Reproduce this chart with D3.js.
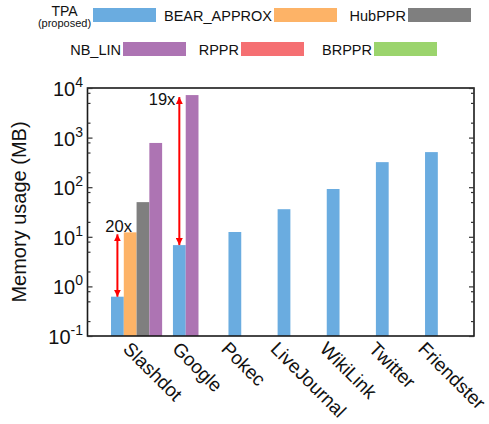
<!DOCTYPE html>
<html>
<head>
<meta charset="utf-8">
<script src="https://cdn.jsdelivr.net/npm/d3@7"></script>
<style>
  body { margin: 0; background: #fff; }
  text { font-family: "Liberation Sans", Arial, Helvetica, sans-serif; fill: #111; }
</style>
</head>
<body>
<svg id="chart" width="489" height="424"></svg>
<script>
// Datasets on the x axis
const categories = ["Slashdot", "Google", "Pokec", "LiveJournal", "WikiLink", "Twitter", "Friendster"];

// Methods (series) and their colours
const seriesNames = ["TPA", "BEAR_APPROX", "HubPPR", "NB_LIN", "RPPR", "BRPPR"];
const seriesColors = ["#6aace0", "#fdb367", "#7f7f7f", "#ad74b3", "#f56f72", "#9bd46d"];

// Memory usage in MB (null = method could not run on that dataset)
const tpaValues    = [0.62, 6.8, 12.5, 36, 92, 320, 510];
const bearValues   = [12.3, null, null, null, null, null, null];
const hubValues    = [50, null, null, null, null, null, null];
const nbLinValues  = [780, 7200, null, null, null, null, null];
const rpprValues   = [null, null, null, null, null, null, null];
const brpprValues  = [null, null, null, null, null, null, null];

// Y axis decades (10^e)
const yTickExponents = [-1, 0, 1, 2, 3, 4];
const yMinorMultipliers = [2, 5, 8];

// Ratio annotations: TPA vs. another method
const ratioLabels = ["20x", "19x"];
const ratioCategories = ["Slashdot", "Google"];
const ratioAgainst = ["BEAR_APPROX", "NB_LIN"];

const allValues = [tpaValues, bearValues, hubValues, nbLinValues, rpprValues, brpprValues];

const svg = d3.select("#chart");
const plot = { left: 87.5, right: 474, top: 88, bottom: 336 };

const x = d3.scaleBand().domain(categories).range([112, 456]);
const y = d3.scaleLog().domain([0.1, 10000]).range([plot.bottom, plot.top]);
const color = d3.scaleOrdinal().domain(seriesNames).range(seriesColors);
const barWidth = x.bandwidth() * 0.26;

// Bars present in each category, centred in the category band
const barsByCategory = categories.map((cat, ci) => {
  const present = seriesNames
    .map((s, si) => ({ series: s, value: allValues[si][ci] }))
    .filter(d => d.value != null);
  const centre = x(cat) + x.bandwidth() / 2;
  return present.map((d, i) => ({
    category: cat,
    series: d.series,
    value: d.value,
    x0: centre - present.length * barWidth / 2 + i * barWidth
  }));
}).flat();

svg.append("g")
  .selectAll("rect")
  .data(barsByCategory)
  .join("rect")
  .attr("x", d => d.x0)
  .attr("width", barWidth)
  .attr("y", d => y(d.value))
  .attr("height", d => plot.bottom - y(d.value))
  .attr("fill", d => color(d.series));

// Frame
svg.append("rect")
  .attr("x", plot.left).attr("y", plot.top)
  .attr("width", plot.right - plot.left).attr("height", plot.bottom - plot.top)
  .attr("fill", "none").attr("stroke", "#1a1a1a").attr("stroke-width", 1.6);

// Ticks on left and right (inward), with minor ticks
const majorVals = yTickExponents.map(e => Math.pow(10, e));
const minorVals = [];
yTickExponents.slice(0, -1).forEach(e => yMinorMultipliers.forEach(m => minorVals.push(m * Math.pow(10, e))));

const axisLeft = d3.axisLeft(y).tickValues(majorVals).tickSize(-5).tickFormat("");
const axisRight = d3.axisRight(y).tickValues(majorVals).tickSize(-5).tickFormat("");
const minorLeft = d3.axisLeft(y).tickValues(minorVals).tickSize(-3).tickFormat("");
const minorRight = d3.axisRight(y).tickValues(minorVals).tickSize(-3).tickFormat("");

[[axisLeft, plot.left], [minorLeft, plot.left], [axisRight, plot.right], [minorRight, plot.right]].forEach(([ax, px]) => {
  const g = svg.append("g").attr("transform", `translate(${px},0)`).call(ax);
  g.select(".domain").remove();
  g.selectAll("line").attr("stroke", "#333").attr("stroke-width", 1.2);
});

// Y tick labels as 10^e
const yLabels = svg.append("g");
yTickExponents.forEach(e => {
  const t = yLabels.append("text")
    .attr("x", 83)
    .attr("y", y(Math.pow(10, e)) + 8)
    .attr("text-anchor", "end")
    .attr("font-size", 20);
  t.append("tspan").text("10");
  t.append("tspan").attr("dy", -9).attr("font-size", 14).text(String(e));
});

// Y axis title
svg.append("text")
  .attr("transform", `translate(26,${(plot.top + plot.bottom) / 2}) rotate(-90)`)
  .attr("text-anchor", "middle")
  .attr("font-size", 20)
  .text("Memory usage (MB)");

// X category labels, rotated
svg.append("g")
  .selectAll("text")
  .data(categories)
  .join("text")
  .attr("transform", d => `translate(${x(d) + x.bandwidth() / 2 - 14.5},350) rotate(45)`)
  .attr("text-anchor", "start")
  .attr("font-size", 19)
  .text(d => d);

// Ratio arrows
const defs = svg.append("defs");
defs.append("marker")
  .attr("id", "arrowHead")
  .attr("viewBox", "0 0 10 10")
  .attr("refX", 10).attr("refY", 5)
  .attr("markerWidth", 7).attr("markerHeight", 7)
  .attr("markerUnits", "userSpaceOnUse")
  .attr("orient", "auto-start-reverse")
  .append("path").attr("d", "M0,0 L10,5 L0,10 z").attr("fill", "#ff0000");

const labelPlacement = [{ dx: 14.5, dy: 0 }, { dx: -4, dy: 10 }];
ratioLabels.forEach((lab, i) => {
  const ci = categories.indexOf(ratioCategories[i]);
  const tpaBar = barsByCategory.find(b => b.category === ratioCategories[i] && b.series === "TPA");
  const other = allValues[seriesNames.indexOf(ratioAgainst[i])][ci];
  const ax = tpaBar.x0 + barWidth / 2;
  svg.append("line")
    .attr("x1", ax).attr("x2", ax)
    .attr("y1", y(tpaBar.value)).attr("y2", y(other) + 2)
    .attr("stroke", "#ff0000").attr("stroke-width", 2)
    .attr("marker-start", "url(#arrowHead)")
    .attr("marker-end", "url(#arrowHead)");
  svg.append("text")
    .attr("x", ax + labelPlacement[i].dx)
    .attr("y", y(other) + labelPlacement[i].dy)
    .attr("text-anchor", "end")
    .attr("font-size", 16.5)
    .text(lab);
});

// Legend
const legendSwatchX = [93, 274, 408, 123, 241, 374];
const legendRowY = [8, 42];
const legend = svg.append("g");
seriesNames.forEach((s, i) => {
  const sy = legendRowY[i < 3 ? 0 : 1];
  legend.append("rect")
    .attr("x", legendSwatchX[i]).attr("y", sy)
    .attr("width", 63).attr("height", 14)
    .attr("fill", color(s));
  if (s === "TPA") {
    legend.append("text").attr("x", 64.5).attr("y", sy + 8)
      .attr("text-anchor", "middle").attr("font-size", 14).text("TPA");
    legend.append("text").attr("x", 64.5).attr("y", sy + 18.5)
      .attr("text-anchor", "middle").attr("font-size", 11).text("(proposed)");
  } else {
    legend.append("text").attr("x", legendSwatchX[i] - 2).attr("y", sy + 13)
      .attr("text-anchor", "end").attr("font-size", 14.5).text(s);
  }
});
</script>
</body>
</html>
